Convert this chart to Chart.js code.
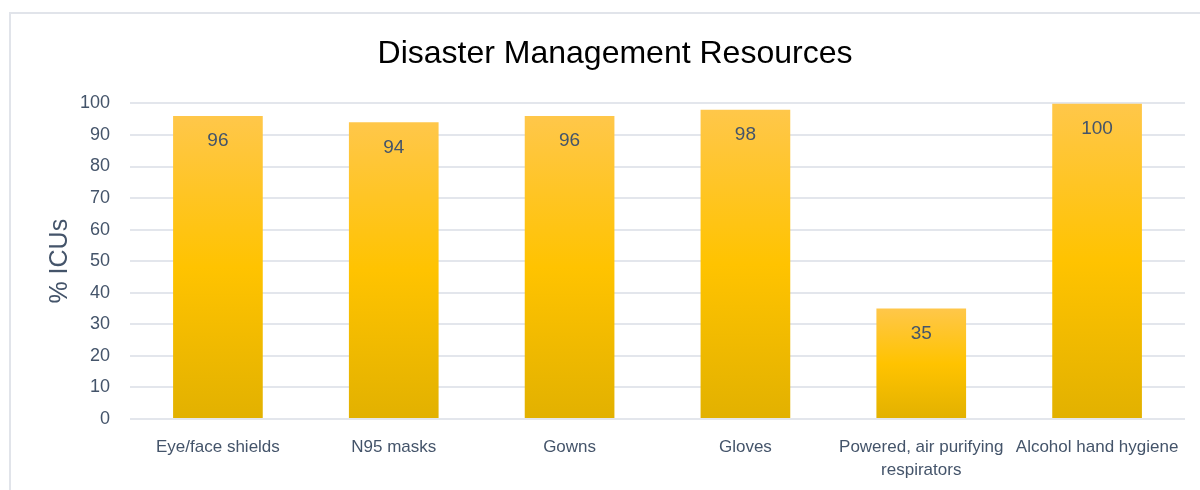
<!DOCTYPE html>
<html>
<head>
<meta charset="utf-8">
<script src="https://cdn.jsdelivr.net/npm/chart.js@4"></script>
<style>
  body { margin: 0; background: #fff; }
  #wrap { position: relative; width: 1200px; height: 490px; overflow: hidden; }
  #frame { position: absolute; left: 9px; top: 12px; width: 1200px; height: 500px; border: 2px solid #e1e4ea; }
  #chart { position: absolute; left: 0; top: 0; }
</style>
</head>
<body>
<div id="wrap">
  <div id="frame"></div>
  <canvas id="chart" width="1200" height="490"></canvas>
</div>
<script>
// categories and values
const categories = [
    'Eye/face shields',
    'N95 masks',
    'Gowns',
    'Gloves',
    ['Powered, air purifying', 'respirators'],
    'Alcohol hand hygiene'
];
const icuPercent = [96, 94, 96, 98, 35, 100];
const yTicks = [0, 10, 20, 30, 40, 50, 60, 70, 80, 90, 100];

const textColor = '#44546A';
const sans = "'Liberation Sans', Arial, sans-serif";

// gradient for each bar, light at the top and darker at the base
function barGradient(ctx) {
    const chart = ctx.chart;
    if (!chart.chartArea || !chart.scales.y) return '#FFC000';
    const y = chart.scales.y;
    const top = y.getPixelForValue(icuPercent[ctx.dataIndex]);
    const bottom = y.getPixelForValue(0);
    const g = chart.ctx.createLinearGradient(0, top, 0, bottom);
    g.addColorStop(0, '#FFC74A');
    g.addColorStop(0.5, '#FFC300');
    g.addColorStop(1, '#E2B100');
    return g;
}

// value labels just inside the top of each bar
const valueLabels = {
    id: 'valueLabels',
    afterDatasetsDraw(chart) {
        const ctx = chart.ctx;
        const meta = chart.getDatasetMeta(0);
        ctx.save();
        ctx.font = "19px " + sans;
        ctx.fillStyle = textColor;
        ctx.textAlign = 'center';
        ctx.textBaseline = 'middle';
        meta.data.forEach((bar, i) => {
            ctx.fillText(String(icuPercent[i]), bar.x, bar.y + 25);
        });
        ctx.restore();
    }
};

new Chart(document.getElementById('chart'), {
    type: 'bar',
    data: {
        labels: categories,
        datasets: [{
            data: icuPercent,
            backgroundColor: barGradient,
            borderWidth: 0,
            barPercentage: 0.51,
            categoryPercentage: 1
        }]
    },
    options: {
        responsive: false,
        animation: false,
        layout: { padding: { left: 45, right: 15, top: 20, bottom: 0 } },
        plugins: {
            legend: { display: false },
            tooltip: { enabled: false },
            title: {
                display: true,
                text: 'Disaster Management Resources',
                color: '#000',
                font: { family: sans, size: 32, weight: 'normal' },
                padding: { top: 15, bottom: 30 }
            }
        },
        scales: {
            x: {
                afterFit(axis) { axis.height = 71; },
                grid: { display: false, drawTicks: false },
                border: { display: false },
                ticks: {
                    color: textColor,
                    font: { family: sans, size: 17, lineHeight: 1.4 },
                    maxRotation: 0,
                    autoSkip: false,
                    padding: 16
                }
            },
            y: {
                min: 0,
                max: 100,
                afterFit(axis) { axis.width = 85; },
                afterBuildTicks(axis) { axis.ticks = yTicks.map(v => ({ value: v })); },
                grid: { color: '#E3E6EC', lineWidth: 2, drawTicks: false },
                border: { display: false },
                ticks: {
                    color: textColor,
                    font: { family: sans, size: 18 },
                    padding: 20
                },
                title: {
                    display: true,
                    text: '% ICUs',
                    color: textColor,
                    font: { family: sans, size: 25 },
                    padding: { top: 0, bottom: 5 }
                }
            }
        }
    },
    plugins: [valueLabels]
});
</script>
</body>
</html>
